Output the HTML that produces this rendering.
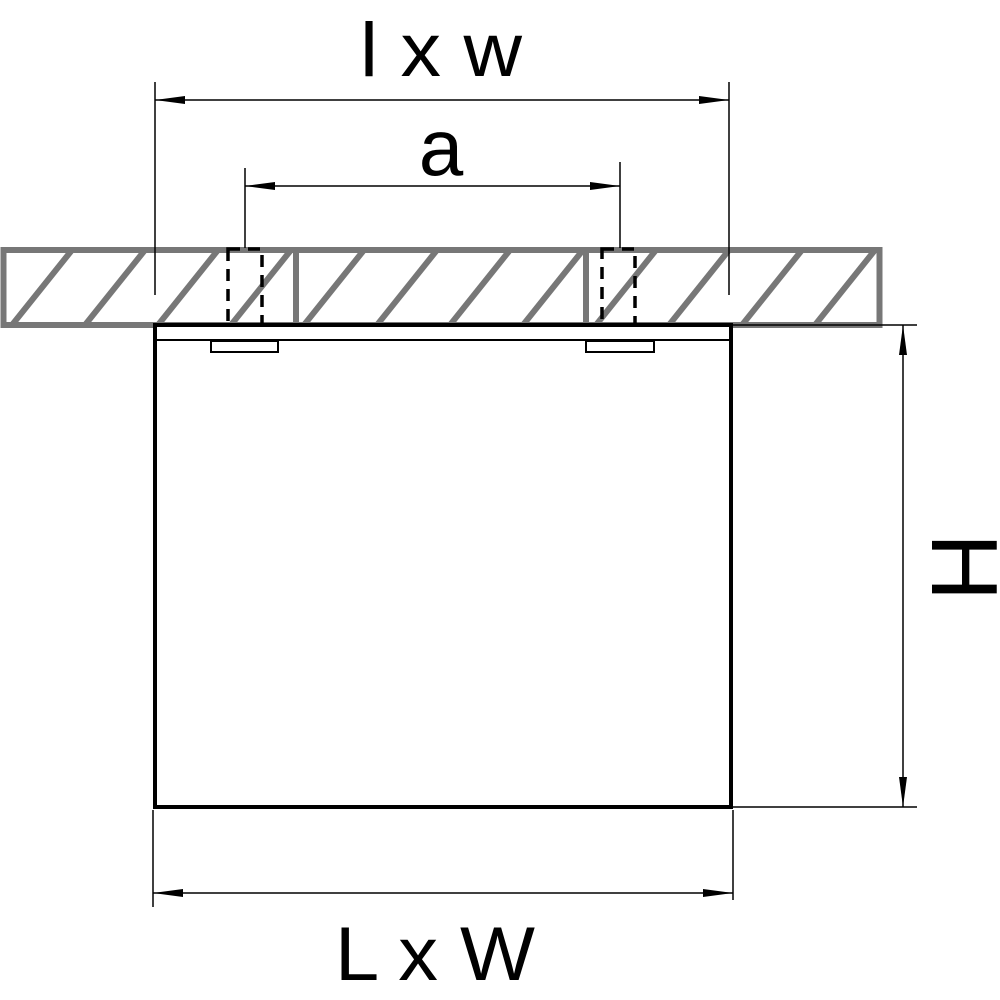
<!DOCTYPE html>
<html><head><style>html,body{margin:0;padding:0;background:#fff}svg{display:block}</style></head>
<body>
<svg width="1000" height="1000" viewBox="0 0 1000 1000" xmlns="http://www.w3.org/2000/svg">
<defs>
<clipPath id="c"><rect x="4" y="250" width="875" height="75"/></clipPath>
</defs>
<g stroke="#777" stroke-width="6" fill="none">
<g clip-path="url(#c)">
<line x1="12" y1="325" x2="72" y2="250"/>
<line x1="85" y1="325" x2="145" y2="250"/>
<line x1="158" y1="325" x2="218" y2="250"/>
<line x1="231" y1="325" x2="291" y2="250"/>
<line x1="304" y1="325" x2="364" y2="250"/>
<line x1="377" y1="325" x2="437" y2="250"/>
<line x1="450" y1="325" x2="510" y2="250"/>
<line x1="523" y1="325" x2="583" y2="250"/>
<line x1="596" y1="325" x2="656" y2="250"/>
<line x1="669" y1="325" x2="729" y2="250"/>
<line x1="742" y1="325" x2="802" y2="250"/>
<line x1="815" y1="325" x2="875" y2="250"/>
<line x1="888" y1="325" x2="948" y2="250"/>
</g>
<rect x="3.5" y="250" width="876" height="75"/>
<line x1="296" y1="250" x2="296" y2="325"/>
<line x1="586" y1="250" x2="586" y2="325"/>
</g>
<g stroke="#000" stroke-width="3.5" fill="none" stroke-dasharray="12,8">
<rect x="228" y="249" width="34" height="92"/>
<rect x="602" y="249" width="33" height="92"/>
</g>
<rect x="155" y="325" width="576" height="482" fill="#fff" stroke="#000" stroke-width="4"/>
<line x1="155" y1="340" x2="731" y2="340" stroke="#000" stroke-width="2"/>
<g stroke="#000" stroke-width="2" fill="#fff">
<rect x="211" y="341" width="67" height="11"/>
<rect x="586" y="341" width="68" height="11"/>
</g>
<g stroke="#000" stroke-width="1.5" fill="none">
<line x1="155" y1="82" x2="155" y2="295"/>
<line x1="729" y1="82" x2="729" y2="295"/>
<line x1="155" y1="100" x2="729" y2="100"/>
<line x1="245" y1="168" x2="245" y2="248"/>
<line x1="620" y1="162" x2="620" y2="248"/>
<line x1="245" y1="186" x2="620" y2="186"/>
<line x1="733" y1="325" x2="917" y2="325"/>
<line x1="733" y1="807" x2="917" y2="807"/>
<line x1="903" y1="325" x2="903" y2="807"/>
<line x1="153" y1="810" x2="153" y2="907"/>
<line x1="733" y1="810" x2="733" y2="900"/>
<line x1="153" y1="893" x2="733" y2="893"/>
</g>
<g fill="#000">
<polygon points="155,100 185,96 185,104"/>
<polygon points="729,100 699,96 699,104"/>
<polygon points="245,186 275,182 275,190"/>
<polygon points="620,186 590,182 590,190"/>
<polygon points="903,325 899,355 907,355"/>
<polygon points="903,807 899,777 907,777"/>
<polygon points="153,893 183,889 183,897"/>
<polygon points="733,893 703,889 703,897"/>
</g>
<g font-family="Liberation Sans, sans-serif" fill="#000" text-anchor="middle">
<text x="441" y="76" font-size="76" textLength="162" lengthAdjust="spacingAndGlyphs">l x w</text>
<text x="441" y="175" font-size="80">a</text>
<text x="435" y="980" font-size="76" textLength="200" lengthAdjust="spacingAndGlyphs">L x W</text>
<text transform="translate(932,567) rotate(90)" x="0" y="0" font-size="94">H</text>
</g>
</svg>
</body></html>
